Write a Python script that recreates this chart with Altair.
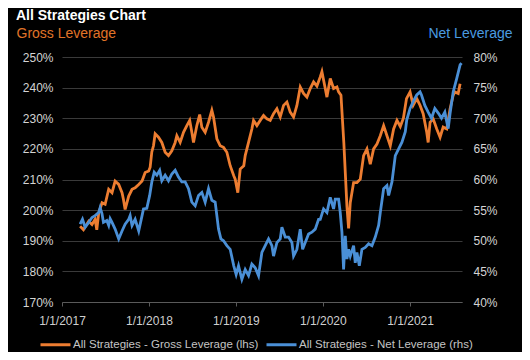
import altair as alt
import pandas as pd

# ---- data ----
# time positions are fractional years after 2017-01-01
gross_t = [0.210, 0.249, 0.307, 0.345, 0.383, 0.402, 0.422, 0.460, 0.498, 0.537,
           0.575, 0.613, 0.652, 0.690, 0.709, 0.728, 0.767, 0.805, 0.843, 0.882,
           0.920, 0.957, 0.997, 1.015, 1.034, 1.054, 1.072, 1.111, 1.149, 1.187,
           1.226, 1.264, 1.302, 1.322, 1.360, 1.399, 1.437, 1.468, 1.494, 1.514,
           1.552, 1.583, 1.609, 1.647, 1.686, 1.724, 1.744, 1.782, 1.820, 1.859,
           1.897, 1.934, 1.974, 1.992, 2.023, 2.049, 2.089, 2.107, 2.146, 2.184,
           2.203, 2.241, 2.279, 2.318, 2.356, 2.394, 2.433, 2.471, 2.509, 2.548,
           2.586, 2.624, 2.663, 2.701, 2.739, 2.778, 2.816, 2.854, 2.893, 2.931,
           2.969, 2.989, 3.026, 3.046, 3.084, 3.123, 3.161, 3.180, 3.207, 3.241,
           3.276, 3.295, 3.314, 3.353, 3.391, 3.429, 3.468, 3.506, 3.544, 3.583,
           3.621, 3.659, 3.698, 3.736, 3.774, 3.813, 3.851, 3.889, 3.925, 3.960,
           4.000, 4.038, 4.077, 4.115, 4.153, 4.192, 4.210, 4.230, 4.268, 4.307,
           4.345, 4.383, 4.422, 4.460, 4.498, 4.517, 4.555, 4.575]
gross_v = [194.7, 193.6, 196.4, 195.3, 197.0, 193.6, 199.0, 202.4, 201.9, 206.8,
           205.7, 209.5, 208.4, 205.7, 203.5, 200.2, 204.6, 206.8, 207.3, 208.4,
           209.5, 212.3, 212.8, 214.0, 219.0, 221.0, 224.9, 223.8, 222.1, 218.9,
           217.8, 219.4, 222.1, 224.3, 222.1, 225.4, 227.6, 229.3, 225.4, 222.1,
           227.6, 231.2, 227.1, 225.4, 228.7, 232.6, 230.4, 223.3, 221.0, 220.5,
           218.9, 214.5, 211.2, 210.1, 205.7, 213.4, 214.5, 217.8, 222.1, 226.5,
           229.3, 227.6, 229.3, 230.9, 229.8, 229.3, 231.5, 233.1, 230.4, 234.2,
           235.3, 232.0, 230.4, 234.2, 240.2, 238.1, 236.9, 239.7, 241.9, 240.5,
           243.5, 245.2, 239.7, 236.9, 243.0, 239.7, 240.2, 238.6, 237.5, 222.0,
           201.3, 194.0, 202.4, 209.0, 209.0, 210.1, 217.8, 220.0, 215.0, 220.0,
           221.6, 224.3, 227.6, 224.3, 221.0, 226.5, 229.3, 227.3, 230.0, 236.4,
           238.6, 234.2, 236.4, 234.2, 231.5, 225.4, 222.1, 228.7, 229.8, 226.5,
           223.8, 227.1, 226.5, 233.1, 237.5, 238.6, 238.1, 241.3]

net_t = [0.210, 0.238, 0.268, 0.307, 0.345, 0.383, 0.422, 0.440, 0.460, 0.479,
         0.517, 0.537, 0.555, 0.575, 0.613, 0.652, 0.690, 0.728, 0.767, 0.785,
         0.805, 0.843, 0.882, 0.920, 0.939, 0.977, 1.008, 1.034, 1.061, 1.092,
         1.123, 1.149, 1.187, 1.226, 1.264, 1.302, 1.341, 1.379, 1.417, 1.456,
         1.494, 1.532, 1.571, 1.609, 1.647, 1.686, 1.724, 1.762, 1.801, 1.828,
         1.859, 1.897, 1.934, 1.974, 2.003, 2.031, 2.069, 2.107, 2.146, 2.184,
         2.222, 2.261, 2.299, 2.337, 2.376, 2.414, 2.433, 2.471, 2.509, 2.529,
         2.567, 2.606, 2.644, 2.663, 2.701, 2.739, 2.767, 2.797, 2.836, 2.874,
         2.911, 2.951, 2.969, 3.008, 3.046, 3.084, 3.123, 3.141, 3.180, 3.199,
         3.218, 3.238, 3.256, 3.276, 3.295, 3.314, 3.353, 3.371, 3.391, 3.417,
         3.448, 3.486, 3.525, 3.563, 3.601, 3.640, 3.659, 3.698, 3.736, 3.755,
         3.793, 3.831, 3.870, 3.908, 3.946, 3.962, 4.000, 4.038, 4.077, 4.115,
         4.134, 4.172, 4.210, 4.249, 4.287, 4.326, 4.364, 4.402, 4.440, 4.460,
         4.498, 4.537, 4.575, 4.594]
net_v = [52.7, 53.5, 52.2, 53.0, 53.8, 54.1, 54.6, 55.4, 54.4, 53.0,
         53.3, 52.5, 53.6, 53.0, 51.9, 50.3, 51.6, 52.7, 53.5, 54.1,
         52.5, 53.5, 51.6, 54.1, 55.2, 55.3, 57.4, 59.6, 61.2, 60.7,
         61.5, 59.8, 60.7, 59.8, 60.9, 61.5, 60.4, 59.6, 59.6, 58.5,
         56.3, 55.7, 57.4, 57.9, 56.3, 58.5, 56.6, 56.3, 51.9, 50.3,
         50.0, 49.2, 48.6, 45.9, 44.5, 45.9, 43.7, 45.3, 44.3, 46.2,
         45.6, 44.3, 48.1, 49.2, 50.3, 49.2, 47.5, 49.7, 50.3, 52.2,
         50.6, 50.6, 49.7, 47.5, 48.6, 51.9, 48.6, 49.7, 51.1, 51.4,
         51.9, 53.5, 53.5, 55.2, 54.6, 57.1, 55.2, 56.8, 56.8, 54.6,
         51.4, 45.3, 50.8, 47.0, 48.6, 47.5, 49.2, 46.4, 48.1, 45.9,
         48.6, 48.9, 49.5, 49.2, 50.6, 52.5, 54.6, 58.5, 59.0, 57.4,
         59.6, 63.9, 65.0, 66.1, 67.8, 69.7, 71.6, 72.7, 73.8, 74.3,
         73.8, 72.1, 71.0, 70.0, 71.6, 70.8, 70.0, 71.0, 68.3, 70.8,
         74.3, 76.5, 78.7, 79.0]

series_names = ["All Strategies - Gross Leverage (lhs)",
                "All Strategies - Net Leverage (rhs)"]
series_colors = ["#ED7D31", "#4A8FD6"]
left_ticks = [170, 180, 190, 200, 210, 220, 230, 240, 250]
right_ticks = [40, 45, 50, 55, 60, 65, 70, 75, 80]
year_ticks = [2017, 2018, 2019, 2020, 2021]

FONT = "Liberation Sans"
start = pd.Timestamp("2017-01-01")


def to_dates(ts):
    return [(start + pd.to_timedelta(t * 365.25, unit="D")).strftime("%Y-%m-%d") for t in ts]


gross_df = pd.DataFrame({"date": to_dates(gross_t), "value": gross_v, "series": series_names[0]})
net_df = pd.DataFrame({"date": to_dates(net_t), "value": net_v, "series": series_names[1]})

x_enc = alt.X(
    "date:T",
    scale=alt.Scale(domain=[alt.DateTime(year=2017, month=1, date=1),
                            alt.DateTime(year=2021, month=8, date=7)]),
    axis=alt.Axis(
        title=None,
        values=[alt.DateTime(year=y, month=1, date=1) for y in year_ticks],
        format="%-m/%-d/%Y",
        formatType="time",
        labelColor="#cfcfcf",
        labelFontSize=12,
        labelFont=FONT,
        labelPadding=9,
        labelFlush=False,
        tickColor="#5a5a5a",
        tickSize=4,
        domainColor="#5a5a5a",
        grid=False,
    ),
)

color_enc = alt.Color(
    "series:N",
    scale=alt.Scale(domain=series_names, range=series_colors),
    legend=alt.Legend(
        title=None,
        orient="none",
        direction="horizontal",
        legendX=-23,
        legendY=271,
        symbolType="stroke",
        symbolSize=900,
        symbolStrokeWidth=3,
        labelColor="#c4c4c4",
        labelFontSize=11.5,
        labelFont=FONT,
        labelOffset=1,
        labelLimit=400,
        columnPadding=1,
    ),
)

gross_line = alt.Chart(gross_df).mark_line(strokeWidth=2.8).encode(
    x=x_enc,
    y=alt.Y(
        "value:Q",
        scale=alt.Scale(domain=[170, 250], nice=False, zero=False),
        axis=alt.Axis(
            title="Gross Leverage",
            titleAngle=0,
            titleAlign="left",
            titleBaseline="alphabetic",
            titleX=-46,
            titleY=-20,
            titleColor="#E07428",
            titleFont=FONT,
            titleFontSize=14,
            titleFontWeight="normal",
            values=left_ticks,
            labelExpr="datum.value + '%'",
            labelColor="#d4d4d4",
            labelFontSize=12,
            labelFont=FONT,
            labelPadding=9,
            ticks=False,
            domain=False,
            grid=True,
            gridColor="#3a3a3a",
            gridWidth=1,
        ),
    ),
    color=color_enc,
)

net_line = alt.Chart(net_df).mark_line(strokeWidth=2.8).encode(
    x=x_enc,
    y=alt.Y(
        "value:Q",
        scale=alt.Scale(domain=[40, 80], nice=False, zero=False),
        axis=alt.Axis(
            orient="right",
            title="Net Leverage",
            titleAngle=0,
            titleAlign="right",
            titleBaseline="alphabetic",
            titleX=50,
            titleY=-20,
            titleColor="#4A9BE0",
            titleFont=FONT,
            titleFontSize=14,
            titleFontWeight="normal",
            values=right_ticks,
            labelExpr="datum.value + '%'",
            labelColor="#d4d4d4",
            labelFontSize=12,
            labelFont=FONT,
            labelPadding=11,
            ticks=False,
            domain=False,
            grid=False,
        ),
    ),
    color=color_enc,
)

chart = (
    alt.layer(gross_line, net_line)
    .resolve_scale(y="independent")
    .properties(
        width=400,
        height=245,
        background="black",
        padding={"left": 54, "top": 49, "right": 60, "bottom": 50},
        autosize=alt.AutoSizeParams(type="none"),
        title=alt.TitleParams(
            "All Strategies Chart",
            anchor="start",
            frame="group",
            color="white",
            font=FONT,
            fontSize=14,
            fontWeight="bold",
            dx=-46,
            dy=5,
            offset=8,
        ),
    )
    .configure_view(stroke=None)
)

chart.save("out.html", embed_options={"renderer": "svg", "actions": False})
